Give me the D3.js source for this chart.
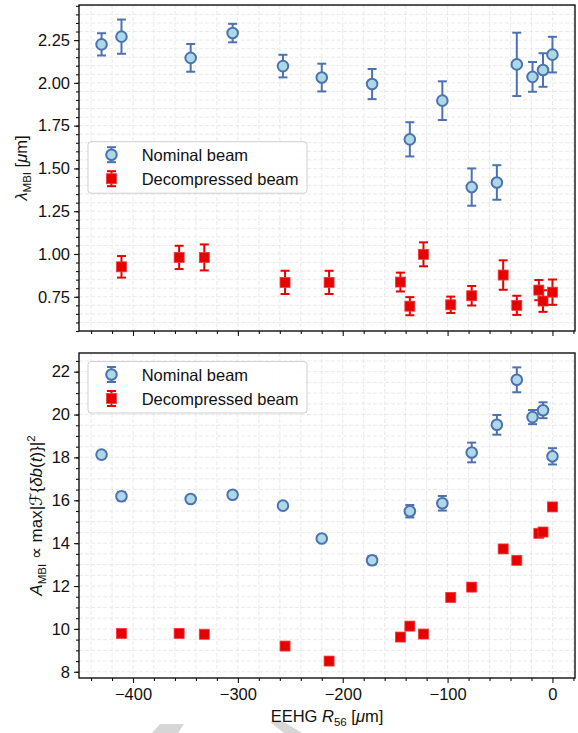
<!DOCTYPE html>
<html>
<head>
<meta charset="utf-8">
<script src="https://cdn.jsdelivr.net/npm/d3@7"></script>
<style>
  body { margin: 0; background: #fff; }
  text { font-family: "Liberation Sans", Arial, sans-serif; fill: #111; }
</style>
</head>
<body>
<svg id="chart" width="578" height="733"></svg>
<script>
// R56 positions (um)
var nominalR56 = [-430, -411, -345, -305, -257, -220, -172, -136, -105, -77, -53, -34, -19, -9, 0];
var decompR56 = [-411, -356, -332, -255, -213, -145, -136, -123, -97, -77, -47, -34, -13, -9, 0];

// top panel: MBI wavelength (um) and errors
var nominalLambda = [2.225, 2.27, 2.146, 2.291, 2.098, 2.031, 1.993, 1.67, 1.896, 1.391, 1.418, 2.108, 2.035, 2.075, 2.165];
var nominalLambdaErr = [0.065, 0.10, 0.081, 0.054, 0.066, 0.081, 0.088, 0.10, 0.113, 0.109, 0.101, 0.185, 0.087, 0.098, 0.104];
var decompLambda = [0.925, 0.98, 0.98, 0.834, 0.834, 0.836, 0.695, 0.998, 0.703, 0.756, 0.877, 0.70, 0.789, 0.725, 0.777];
var decompLambdaErr = [0.063, 0.068, 0.076, 0.068, 0.068, 0.055, 0.053, 0.07, 0.048, 0.057, 0.086, 0.056, 0.059, 0.063, 0.074];

// bottom panel: MBI amplitude and errors
var nominalAmp = [18.13, 16.19, 16.06, 16.26, 15.75, 14.22, 13.2, 15.49, 15.86, 18.23, 19.52, 21.62, 19.88, 20.2, 18.05];
var nominalAmpErr = [0.17, 0.2, 0.12, 0.12, 0.1, 0.05, 0.2, 0.29, 0.34, 0.46, 0.46, 0.58, 0.33, 0.37, 0.38];
var decompAmp = [9.79, 9.79, 9.75, 9.2, 8.5, 9.62, 10.13, 9.76, 11.47, 11.95, 13.73, 13.2, 14.46, 14.52, 15.69];
var decompAmpErr = [0.15, 0.08, 0.08, 0.05, 0.05, 0.05, 0.1, 0.15, 0.05, 0.05, 0.05, 0.05, 0.05, 0.05, 0.05];

var xTicks = [-400, -300, -200, -100, 0];
var lambdaTicks = [0.75, 1.00, 1.25, 1.50, 1.75, 2.00, 2.25];
var ampTicks = [8, 10, 12, 14, 16, 18, 20, 22];
var seriesNames = ["Nominal beam", "Decompressed beam"];

var blue = "#4c72b0", lightBlue = "#add8e6", red = "#e60000";

var svg = d3.select("#chart");
var left = 79, right = 575;

var x = d3.scaleLinear().domain([-451.5, 21.5]).range([left, right]);

// light gray watermark pieces at the bottom edge
svg.append("polygon").attr("points", "160,724 184,724 178,733 152,733").attr("fill", "#d6d6d6");
svg.append("polygon").attr("points", "270,722 284,722 302,733 284,733").attr("fill", "#d6d6d6");

function panel(top, bottom, yDomain, yTicks, yMinorStep, yFormat, series, legendTop, showXLabels) {
  var y = d3.scaleLinear().domain(yDomain).range([bottom, top]);
  var g = svg.append("g");

  // grid (major + minor), dashed light gray
  var xMinor = d3.range(-440, 21, 20);
  var yMinor = d3.range(Math.ceil(yDomain[0] / yMinorStep) * yMinorStep, yDomain[1], yMinorStep);
  g.append("g").selectAll("line").data(xMinor).enter().append("line")
    .attr("x1", function(d) { return x(d); }).attr("x2", function(d) { return x(d); })
    .attr("y1", top).attr("y2", bottom)
    .attr("stroke", "#e4e4e4").attr("stroke-width", 0.8).attr("stroke-dasharray", "4,2");
  g.append("g").selectAll("line").data(yMinor).enter().append("line")
    .attr("y1", function(d) { return y(d); }).attr("y2", function(d) { return y(d); })
    .attr("x1", left).attr("x2", right)
    .attr("stroke", "#e4e4e4").attr("stroke-width", 0.8).attr("stroke-dasharray", "4,2");

  // axes
  var xAxis = d3.axisBottom(x).tickValues(xTicks).tickSize(5).tickPadding(5)
    .tickFormat(showXLabels ? function(d) { return d === 0 ? "0" : "\u2212" + Math.abs(d); } : "");
  g.append("g").attr("transform", "translate(0," + bottom + ")").call(xAxis);
  g.append("g").attr("transform", "translate(0," + bottom + ")")
    .call(d3.axisBottom(x).tickValues(xMinor.filter(function(d) { return d % 100 !== 0; })).tickSize(3).tickFormat(""));
  g.append("g").attr("transform", "translate(" + left + ",0)")
    .call(d3.axisLeft(y).tickValues(yTicks).tickSize(5).tickPadding(4).tickFormat(yFormat));
  g.append("g").attr("transform", "translate(" + left + ",0)")
    .call(d3.axisLeft(y).tickValues(yMinor).tickSize(3).tickFormat(""));
  g.selectAll(".domain").remove();
  g.selectAll(".tick line").attr("stroke", "#111").attr("stroke-width", 1.1);
  g.selectAll(".tick text").style("font-size", "16.5px").attr("fill", "#111");

  // frame
  g.append("rect").attr("x", left).attr("y", top).attr("width", right - left).attr("height", bottom - top)
    .attr("fill", "none").attr("stroke", "#111").attr("stroke-width", 1.4);

  // series: errorbars + markers
  series.forEach(function(s) {
    var pts = s.xs.map(function(d, i) { return { x: d, y: s.ys[i], e: s.es[i] }; });
    var sg = g.append("g");
    var eb = sg.selectAll("g.eb").data(pts).enter().append("g")
      .attr("stroke", s.line).attr("stroke-width", 2);
    eb.append("line")
      .attr("x1", function(d) { return x(d.x); }).attr("x2", function(d) { return x(d.x); })
      .attr("y1", function(d) { return y(d.y - d.e); }).attr("y2", function(d) { return y(d.y + d.e); });
    [-1, 1].forEach(function(sign) {
      eb.append("line")
        .attr("x1", function(d) { return x(d.x) - 4.5; }).attr("x2", function(d) { return x(d.x) + 4.5; })
        .attr("y1", function(d) { return y(d.y + sign * d.e); }).attr("y2", function(d) { return y(d.y + sign * d.e); });
    });
    if (s.shape === "circle") {
      sg.selectAll("circle").data(pts).enter().append("circle")
        .attr("cx", function(d) { return x(d.x); }).attr("cy", function(d) { return y(d.y); })
        .attr("r", 5.3).attr("fill", s.fill).attr("stroke", s.line).attr("stroke-width", 2);
    } else {
      sg.selectAll("rect").data(pts).enter().append("rect")
        .attr("x", function(d) { return x(d.x) - 5; }).attr("y", function(d) { return y(d.y) - 5; })
        .attr("width", 10).attr("height", 10).attr("fill", s.fill).attr("stroke", "#f03a3a").attr("stroke-width", 0.8);
    }
  });

  // legend
  var lg = g.append("g").attr("transform", "translate(88," + legendTop + ")");
  lg.append("rect").attr("width", 219).attr("height", 51.5).attr("rx", 3)
    .attr("fill", "#fff").attr("fill-opacity", 0.85).attr("stroke", "#d0d0d0").attr("stroke-width", 1);
  series.forEach(function(s, i) {
    var cy = 13 + i * 24, cx = 23.5;
    var item = lg.append("g");
    item.append("line").attr("x1", cx).attr("x2", cx).attr("y1", cy - 7.5).attr("y2", cy + 7.5)
      .attr("stroke", s.line).attr("stroke-width", 2);
    [-7.5, 7.5].forEach(function(dy) {
      item.append("line").attr("x1", cx - 4.5).attr("x2", cx + 4.5).attr("y1", cy + dy).attr("y2", cy + dy)
        .attr("stroke", s.line).attr("stroke-width", 2);
    });
    if (s.shape === "circle") {
      item.append("circle").attr("cx", cx).attr("cy", cy).attr("r", 5.3)
        .attr("fill", s.fill).attr("stroke", s.line).attr("stroke-width", 2);
    } else {
      item.append("rect").attr("x", cx - 5).attr("y", cy - 5).attr("width", 10).attr("height", 10)
        .attr("fill", s.fill).attr("stroke", "#f03a3a").attr("stroke-width", 0.8);
    }
    item.append("text").attr("x", 53.7).attr("y", cy + 6).style("font-size", "16.5px").text(s.name);
  });

  return g;
}

panel(5, 331, [0.55, 2.455], lambdaTicks, 0.05, d3.format(".2f"), [
  { name: seriesNames[0], xs: nominalR56, ys: nominalLambda, es: nominalLambdaErr, shape: "circle", fill: lightBlue, line: blue },
  { name: seriesNames[1], xs: decompR56, ys: decompLambda, es: decompLambdaErr, shape: "square", fill: red, line: red }
], 141.7, false);

panel(353, 678, [7.71, 22.87], ampTicks, 0.5, d3.format("d"), [
  { name: seriesNames[0], xs: nominalR56, ys: nominalAmp, es: nominalAmpErr, shape: "circle", fill: lightBlue, line: blue },
  { name: seriesNames[1], xs: decompR56, ys: decompAmp, es: decompAmpErr, shape: "square", fill: red, line: red }
], 361.5, true);

// axis labels
var fs = "16.5px";
svg.append("text").attr("transform", "translate(27,168) rotate(-90)").attr("text-anchor", "middle")
  .style("font-size", fs)
  .call(function(t) {
    t.append("tspan").style("font-style", "italic").text("\u03bb");
    t.append("tspan").attr("dy", 4).style("font-size", "11.5px").text("MBI");
    t.append("tspan").attr("dy", -4).text(" [");
    t.append("tspan").style("font-style", "italic").text("\u03bc");
    t.append("tspan").text("m]");
  });

svg.append("text").attr("transform", "translate(42,515.5) rotate(-90)").attr("text-anchor", "middle")
  .style("font-size", "17px")
  .call(function(t) {
    t.append("tspan").style("font-style", "italic").text("A");
    t.append("tspan").attr("dy", 4).style("font-size", "11.5px").text("MBI");
    t.append("tspan").attr("dy", -4).text(" \u221d max|");
    t.append("tspan").style("font-family", "'DejaVu Sans', sans-serif").text("\u2131");
    t.append("tspan").text("{");
    t.append("tspan").style("font-style", "italic").text("\u03b4b");
    t.append("tspan").text("(");
    t.append("tspan").style("font-style", "italic").text("t");
    t.append("tspan").text(")}|");
    t.append("tspan").attr("dy", -7).style("font-size", "11.5px").text("2");
  });

svg.append("text").attr("x", 327).attr("y", 722).attr("text-anchor", "middle")
  .style("font-size", fs)
  .call(function(t) {
    t.append("tspan").text("EEHG ");
    t.append("tspan").style("font-style", "italic").text("R");
    t.append("tspan").attr("dy", 4).style("font-size", "11.5px").text("56");
    t.append("tspan").attr("dy", -4).text(" [");
    t.append("tspan").style("font-style", "italic").text("\u03bc");
    t.append("tspan").text("m]");
  });
</script>
</body>
</html>
